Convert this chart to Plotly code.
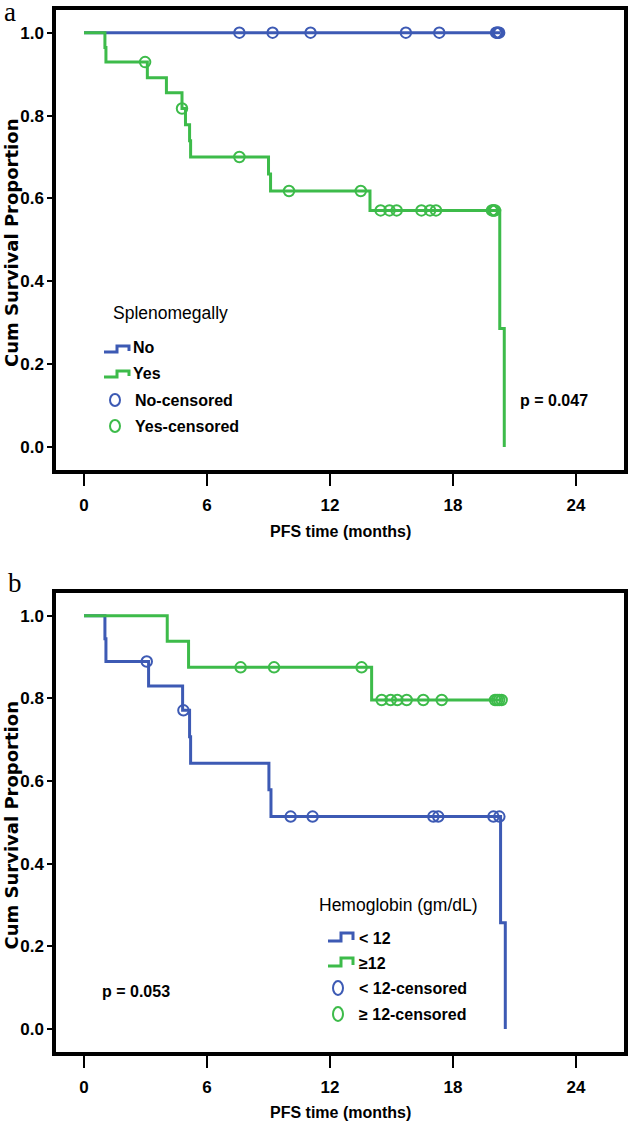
import plotly.graph_objects as go

W, H = 629, 1126

BLUE = "#3d5ab4"
GREEN = "#3dbb4a"
SANS = "Liberation Sans, Arial, sans-serif"
SERIF = "Liberation Serif, Times New Roman, serif"

# ---- panel a : splenomegally ----
a_no_t = [0, 20.3]
a_no_s = [1.0, 1.0]
a_no_cens_t = [7.58, 9.2, 11.05, 15.7, 17.33, 20.1, 20.15, 20.2, 20.25]
a_no_cens_s = [1.0, 1.0, 1.0, 1.0, 1.0, 1.0, 1.0, 1.0, 1.0]

a_yes_t = [0, 1.02, 1.07, 3.09, 4.02, 4.78, 4.95, 5.15, 5.2, 9.0, 9.1, 13.95, 20.28, 20.5]
a_yes_s = [1.0, 0.964, 0.929, 0.891, 0.855, 0.817, 0.778, 0.739, 0.700, 0.659, 0.618, 0.571, 0.286, 0.0]
a_yes_cens_t = [2.98, 4.78, 7.58, 10.0, 13.5, 14.47, 14.9, 15.25, 16.46, 16.88, 17.17,
                19.9, 19.95, 20.0, 20.05]
a_yes_cens_s = [0.929, 0.817, 0.700, 0.618, 0.618, 0.571, 0.571, 0.571, 0.571, 0.571, 0.571,
                0.571, 0.571, 0.571, 0.571]

# ---- panel b : hemoglobin ----
b_low_t = [0, 1.02, 1.07, 3.15, 4.81, 5.15, 5.2, 9.02, 9.12, 20.32, 20.55]
b_low_s = [1.0, 0.944, 0.889, 0.830, 0.771, 0.707, 0.643, 0.579, 0.514, 0.257, 0.0]
b_low_cens_t = [3.06, 4.85, 10.08, 11.15, 17.04, 17.28, 19.97, 20.26]
b_low_cens_s = [0.889, 0.771, 0.514, 0.514, 0.514, 0.514, 0.514, 0.514]

b_high_t = [0, 4.06, 5.1, 14.03, 20.37]
b_high_s = [1.0, 0.938, 0.875, 0.796, 0.796]
b_high_cens_t = [7.64, 9.27, 13.54, 14.52, 14.96, 15.28, 15.74, 16.55, 17.45,
                 20.05, 20.15, 20.25, 20.37]
b_high_cens_s = [0.875, 0.875, 0.875, 0.796, 0.796, 0.796, 0.796, 0.796, 0.796,
                 0.796, 0.796, 0.796, 0.796]

x_ticks = [0, 6, 12, 18, 24]
y_ticks = [0.0, 0.2, 0.4, 0.6, 0.8, 1.0]


def px(x):
    return x / W


def py(y):
    return 1 - y / H


def curve(t, s, color, xa, ya):
    return go.Scatter(x=t, y=s, mode="lines", line=dict(color=color, width=3, shape="hv"),
                      xaxis=xa, yaxis=ya, hoverinfo="skip")


def cens(t, s, color, xa, ya):
    return go.Scatter(x=t, y=s, mode="markers",
                      marker=dict(symbol="circle-open", size=10.5, color=color,
                                  line=dict(width=2, color=color)),
                      xaxis=xa, yaxis=ya, hoverinfo="skip")


fig = go.Figure()
fig.add_trace(curve(a_no_t, a_no_s, BLUE, "x", "y"))
fig.add_trace(cens(a_no_cens_t, a_no_cens_s, BLUE, "x", "y"))
fig.add_trace(curve(a_yes_t, a_yes_s, GREEN, "x", "y"))
fig.add_trace(cens(a_yes_cens_t, a_yes_cens_s, GREEN, "x", "y"))

fig.add_trace(curve(b_low_t, b_low_s, BLUE, "x2", "y2"))
fig.add_trace(cens(b_low_cens_t, b_low_cens_s, BLUE, "x2", "y2"))
fig.add_trace(curve(b_high_t, b_high_s, GREEN, "x2", "y2"))
fig.add_trace(cens(b_high_cens_t, b_high_cens_s, GREEN, "x2", "y2"))

tickfont = dict(family=SANS, size=17, color="black", weight="bold")
xcommon = dict(range=[-1.366, 26.34], domain=[px(56), px(624)], tickvals=x_ticks,
               ticks="outside", ticklen=12, tickwidth=1.5, tickcolor="black",
               showline=True, mirror=True, linewidth=3.5, linecolor="black",
               showgrid=False, zeroline=False, tickfont=tickfont, ticklabelstandoff=5)
ycommon = dict(range=[-0.0555, 1.0548], tickvals=y_ticks, tickformat=".1f",
               ticks="outside", ticklen=5, tickwidth=1.5, tickcolor="black",
               showline=True, mirror=True, linewidth=3.5, linecolor="black",
               showgrid=False, zeroline=False, tickfont=tickfont)

fig.update_layout(
    width=W, height=H, margin=dict(l=0, r=0, t=0, b=0),
    paper_bgcolor="white", plot_bgcolor="white", showlegend=False,
    xaxis=dict(anchor="y", **xcommon),
    yaxis=dict(anchor="x", domain=[py(470), py(10)], **ycommon),
    xaxis2=dict(anchor="y2", **xcommon),
    yaxis2=dict(anchor="x2", domain=[py(1052), py(593)], **ycommon),
)


def note(text, x, y, size=16, family=SANS, bold=True, xanchor="left", angle=0):
    fig.add_annotation(text=text, x=px(x), y=py(y), xref="paper", yref="paper",
                       xanchor=xanchor, yanchor="middle", showarrow=False, textangle=angle,
                       font=dict(family=family, size=size, color="black",
                                 weight="bold" if bold else "normal"))


def step_icon(x0, ytop, ybot, color):
    pts = [(x0, ybot), (x0 + 13, ybot), (x0 + 13, ytop), (x0 + 25, ytop), (x0 + 25, ybot - 1)]
    path = "M " + " L ".join(f"{px(a):.5f},{py(b):.5f}" for a, b in pts)
    fig.add_shape(type="path", path=path, xref="paper", yref="paper",
                  line=dict(color=color, width=3))


def ring(cx, cy, rx, ry, color):
    fig.add_shape(type="circle", xref="paper", yref="paper",
                  x0=px(cx - rx), x1=px(cx + rx), y0=py(cy + ry), y1=py(cy - ry),
                  line=dict(color=color, width=2))


# axis titles
for top, bottom, title_y in [(10, 470, 531), (593, 1052, 1112)]:
    note("PFS time (months)", 340, title_y, size=16, xanchor="center")
    note("Cum Survival Proportion", 11, (top + bottom) / 2 + 3, size=18,
         family="DejaVu Sans, sans-serif", xanchor="center", angle=-90)

# panel letters
note("a", 2, 12, size=27, family=SERIF, bold=False)
note("b", 6, 583, size=27, family=SERIF, bold=False)

# legend a
note("Splenomegally", 111, 313, size=17.5, bold=False)
step_icon(104, 346, 352, BLUE)
note("No", 131, 347)
step_icon(104, 371, 377, GREEN)
note("Yes", 131, 373)
ring(115, 400, 5, 6, BLUE)
note("No-censored", 133, 400)
ring(115, 426, 5, 6, GREEN)
note("Yes-censored", 133, 426)
note("p = 0.047", 518, 400)

# legend b
note("Hemoglobin (gm/dL)", 317, 905, size=17.5, bold=False)
step_icon(328, 933, 941, BLUE)
note("< 12", 357, 938)
step_icon(328, 958, 966, GREEN)
note("≥12", 357, 963)
ring(338, 988, 5, 7, BLUE)
note("< 12-censored", 357, 988)
ring(338, 1014, 5, 7, GREEN)
note("≥ 12-censored", 357, 1014)
note("p = 0.053", 100, 991)

fig.write_html("out.html", config={"displayModeBar": False},
               post_script="document.body.style.margin='0';")
